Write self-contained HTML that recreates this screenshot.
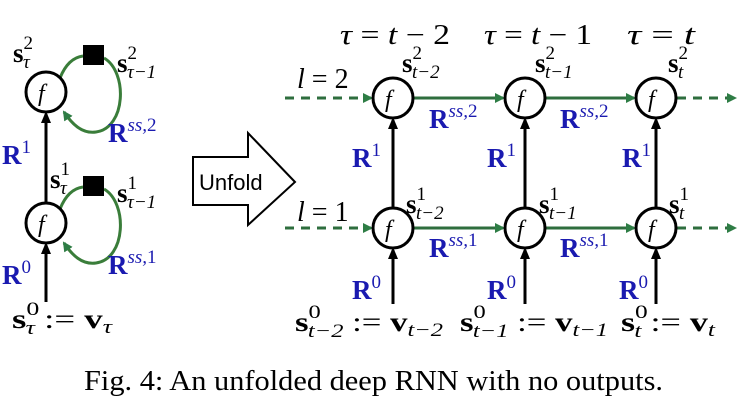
<!DOCTYPE html>
<html><head><style>
html,body{margin:0;padding:0;background:#fff;}
svg{display:block;}
text{font-family:"Liberation Serif",serif;}
.b{font-weight:bold;font-size:27px;}
.bl{fill:#1a1ab0;}
.sm{font-size:19px;font-weight:normal;}
.it{font-style:italic;}
</style></head><body>
<svg width="755" height="408" viewBox="0 0 755 408" xmlns="http://www.w3.org/2000/svg">
<defs>
<marker id="ag" markerWidth="10" markerHeight="10" refX="8" refY="5" orient="auto" markerUnits="userSpaceOnUse"><path d="M0,0 L10,5 L0,10 z" fill="#2e7d45"/></marker>
<marker id="ak" markerWidth="10" markerHeight="12" refX="9" refY="5" orient="auto" markerUnits="userSpaceOnUse"><path d="M0,0 L12,5 L0,10 z" fill="#000"/></marker>
</defs>
<g fill="none" stroke-width="3">
<line x1="46" y1="302" x2="46" y2="245" stroke="#000" marker-end="url(#ak)"/>
<line x1="46" y1="203" x2="46" y2="114" stroke="#000" marker-end="url(#ak)"/>
<path d="M60,78 Q68,58 83,56" stroke="#3a7d3a"/>
<path d="M104,58 C128,72 126,128 96,132 C82,134 72,124 64,112" stroke="#3a7d3a" marker-end="url(#ag)"/>
<path d="M60,209 Q68,189 83,187" stroke="#3a7d3a"/>
<path d="M104,189 C128,203 126,259 96,263 C82,265 72,255 64,243" stroke="#3a7d3a" marker-end="url(#ag)"/>
<circle cx="46" cy="92" r="20" stroke="#000" fill="#fff"/>
<circle cx="46" cy="223" r="20" stroke="#000" fill="#fff"/>
</g>
<rect x="83" y="45" width="21" height="20" fill="#000"/>
<rect x="83" y="176" width="21" height="20" fill="#000"/>
<text x="38" y="101" font-size="24" class="it">f</text>
<text x="38" y="232" font-size="24" class="it">f</text>
<text x="13" y="62" class="b">s<tspan class="sm" dy="-13">2</tspan><tspan class="sm it" dx="-10" dy="19">τ</tspan></text>
<text x="117" y="72" class="b">s<tspan class="sm" dy="-13">2</tspan><tspan class="sm it" dx="-10" dy="19">τ−1</tspan></text>
<text x="108" y="142" class="b bl">R<tspan class="sm it" dy="-11">ss,</tspan><tspan class="sm">2</tspan></text>
<text x="2" y="164" class="b bl">R<tspan class="sm" dy="-11">1</tspan></text>
<text x="50" y="188" class="b">s<tspan class="sm" dy="-13">1</tspan><tspan class="sm it" dx="-10" dy="19">τ</tspan></text>
<text x="117" y="202" class="b">s<tspan class="sm" dy="-13">1</tspan><tspan class="sm it" dx="-10" dy="19">τ−1</tspan></text>
<text x="108" y="274" class="b bl">R<tspan class="sm it" dy="-11">ss,</tspan><tspan class="sm">1</tspan></text>
<text x="2" y="284" class="b bl">R<tspan class="sm" dy="-11">0</tspan></text>
<text x="12" y="328" class="b" textLength="100" lengthAdjust="spacingAndGlyphs">s<tspan class="sm" dy="-13">0</tspan><tspan class="sm it" dx="-10" dy="19">τ</tspan><tspan dy="-6" font-weight="normal"> := </tspan><tspan>v</tspan><tspan class="sm it" dy="5">τ</tspan></text>
<polygon points="193,157 248,157 248,133 295,182 248,225 248,205 193,205" fill="#fff" stroke="#000" stroke-width="2"/>
<text x="199" y="190" style="font-family:'Liberation Sans',sans-serif" font-size="22">Unfold</text>
<g fill="none" stroke-width="3">
<line x1="285" y1="98" x2="371" y2="98" stroke="#2e6e3e" stroke-dasharray="9,7" marker-end="url(#ag)"/>
<line x1="285" y1="228" x2="371" y2="228" stroke="#2e6e3e" stroke-dasharray="9,7" marker-end="url(#ag)"/>
<line x1="414" y1="98" x2="503" y2="98" stroke="#2e6e3e" marker-end="url(#ag)"/>
<line x1="546" y1="98" x2="634" y2="98" stroke="#2e6e3e" marker-end="url(#ag)"/>
<line x1="414" y1="228" x2="503" y2="228" stroke="#2e6e3e" marker-end="url(#ag)"/>
<line x1="546" y1="228" x2="634" y2="228" stroke="#2e6e3e" marker-end="url(#ag)"/>
<line x1="677" y1="98" x2="735" y2="98" stroke="#2e6e3e" stroke-dasharray="9,7" marker-end="url(#ag)"/>
<line x1="677" y1="228" x2="735" y2="228" stroke="#2e6e3e" stroke-dasharray="9,7" marker-end="url(#ag)"/>
<line x1="393" y1="207" x2="393" y2="120" stroke="#000" marker-end="url(#ak)"/>
<line x1="525" y1="207" x2="525" y2="120" stroke="#000" marker-end="url(#ak)"/>
<line x1="656" y1="207" x2="656" y2="120" stroke="#000" marker-end="url(#ak)"/>
<line x1="393" y1="304" x2="393" y2="250" stroke="#000" marker-end="url(#ak)"/>
<line x1="525" y1="304" x2="525" y2="250" stroke="#000" marker-end="url(#ak)"/>
<line x1="656" y1="304" x2="656" y2="250" stroke="#000" marker-end="url(#ak)"/>
<circle cx="393" cy="98" r="20" stroke="#000" fill="#fff"/>
<circle cx="525" cy="98" r="20" stroke="#000" fill="#fff"/>
<circle cx="656" cy="98" r="20" stroke="#000" fill="#fff"/>
<circle cx="393" cy="228" r="20" stroke="#000" fill="#fff"/>
<circle cx="525" cy="228" r="20" stroke="#000" fill="#fff"/>
<circle cx="656" cy="228" r="20" stroke="#000" fill="#fff"/>
</g>
<g font-size="24" class="it">
<text x="385" y="107">f</text><text x="517" y="107">f</text><text x="648" y="107">f</text>
<text x="385" y="237">f</text><text x="517" y="237">f</text><text x="648" y="237">f</text>
</g>
<g font-size="28">
<text x="340" y="44" textLength="110" lengthAdjust="spacingAndGlyphs"><tspan class="it">τ</tspan> = <tspan class="it">t</tspan> − 2</text>
<text x="484" y="44" textLength="108" lengthAdjust="spacingAndGlyphs"><tspan class="it">τ</tspan> = <tspan class="it">t</tspan> − 1</text>
<text x="627" y="44" textLength="68" lengthAdjust="spacingAndGlyphs"><tspan class="it">τ</tspan> = <tspan class="it">t</tspan></text>
<text x="297" y="88"><tspan class="it">l</tspan> = 2</text>
<text x="297" y="221"><tspan class="it">l</tspan> = 1</text>
</g>
<text x="402" y="72" class="b">s<tspan class="sm" dy="-13">2</tspan><tspan class="sm it" dx="-10" dy="19">t−2</tspan></text>
<text x="535" y="72" class="b">s<tspan class="sm" dy="-13">2</tspan><tspan class="sm it" dx="-10" dy="19">t−1</tspan></text>
<text x="668" y="72" class="b">s<tspan class="sm" dy="-13">2</tspan><tspan class="sm it" dx="-10" dy="19">t</tspan></text>
<text x="406" y="213" class="b">s<tspan class="sm" dy="-13">1</tspan><tspan class="sm it" dx="-10" dy="19">t−2</tspan></text>
<text x="539" y="213" class="b">s<tspan class="sm" dy="-13">1</tspan><tspan class="sm it" dx="-10" dy="19">t−1</tspan></text>
<text x="669" y="213" class="b">s<tspan class="sm" dy="-13">1</tspan><tspan class="sm it" dx="-10" dy="19">t</tspan></text>
<text x="429" y="128" class="b bl">R<tspan class="sm it" dy="-11">ss,</tspan><tspan class="sm">2</tspan></text>
<text x="560" y="128" class="b bl">R<tspan class="sm it" dy="-11">ss,</tspan><tspan class="sm">2</tspan></text>
<text x="429" y="257" class="b bl">R<tspan class="sm it" dy="-11">ss,</tspan><tspan class="sm">1</tspan></text>
<text x="560" y="257" class="b bl">R<tspan class="sm it" dy="-11">ss,</tspan><tspan class="sm">1</tspan></text>
<text x="352" y="167" class="b bl">R<tspan class="sm" dy="-11">1</tspan></text>
<text x="487" y="167" class="b bl">R<tspan class="sm" dy="-11">1</tspan></text>
<text x="622" y="167" class="b bl">R<tspan class="sm" dy="-11">1</tspan></text>
<text x="352" y="299" class="b bl">R<tspan class="sm" dy="-11">0</tspan></text>
<text x="487" y="299" class="b bl">R<tspan class="sm" dy="-11">0</tspan></text>
<text x="619" y="299" class="b bl">R<tspan class="sm" dy="-11">0</tspan></text>
<text x="295" y="331" class="b" textLength="148" lengthAdjust="spacingAndGlyphs">s<tspan class="sm" dy="-13">0</tspan><tspan class="sm it" dx="-10" dy="19">t−2</tspan><tspan dy="-6" font-weight="normal"> := </tspan>v<tspan class="sm it" dy="5">t−2</tspan></text>
<text x="460" y="331" class="b" textLength="148" lengthAdjust="spacingAndGlyphs">s<tspan class="sm" dy="-13">0</tspan><tspan class="sm it" dx="-10" dy="19">t−1</tspan><tspan dy="-6" font-weight="normal"> := </tspan>v<tspan class="sm it" dy="5">t−1</tspan></text>
<text x="621" y="331" class="b" textLength="94" lengthAdjust="spacingAndGlyphs">s<tspan class="sm" dy="-13">0</tspan><tspan class="sm it" dx="-10" dy="19">t</tspan><tspan dy="-6" font-weight="normal"> := </tspan>v<tspan class="sm it" dy="5">t</tspan></text>
<text x="84" y="390" font-size="28" textLength="579" lengthAdjust="spacingAndGlyphs">Fig. 4: An unfolded deep RNN with no outputs.</text>
</svg>
</body></html>
